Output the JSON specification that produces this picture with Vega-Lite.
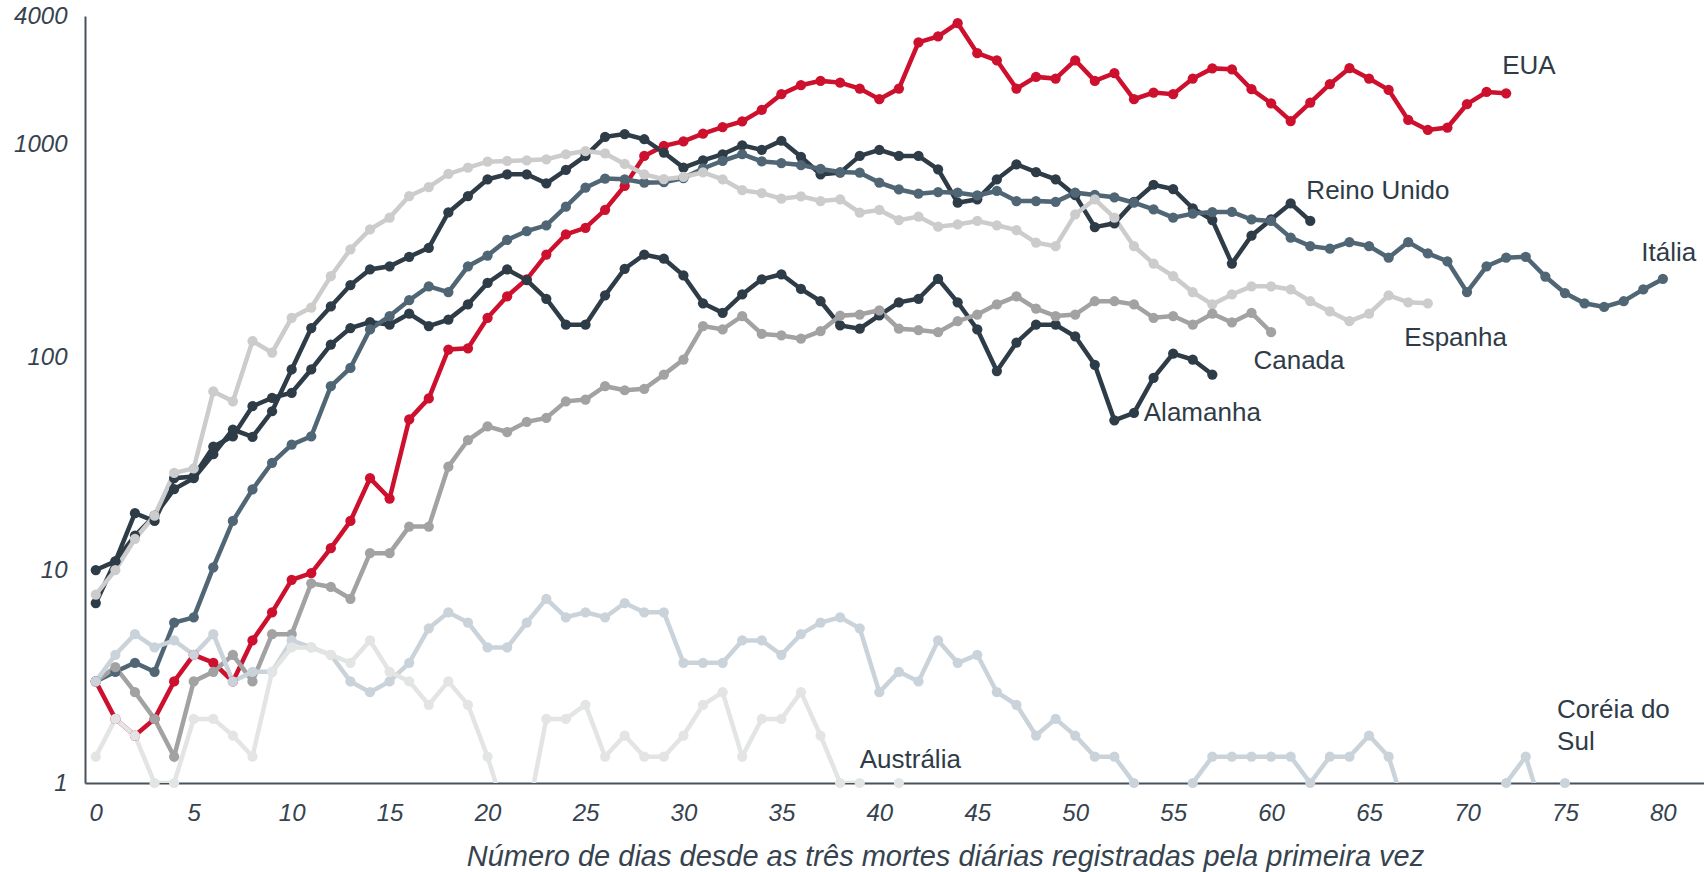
{
"$schema": "https://vega.github.io/schema/vega-lite/v6.json",
"width": 1619, "height": 767,
"autosize": {"type": "none"},
"padding": {"left": 85, "top": 16, "right": 0, "bottom": 89},
"background": "white",
"config": {"view": {"stroke": null}, "font": "Liberation Sans"},
"datasets": {
"series": [
{"c":"US","d":0,"v":3},{"c":"US","d":1,"v":2},{"c":"US","d":2,"v":1.67},{"c":"US","d":3,"v":2},{"c":"US","d":4,"v":3},{"c":"US","d":5,"v":4},{"c":"US","d":6,"v":3.67},{"c":"US","d":7,"v":3},{"c":"US","d":8,"v":4.67},{"c":"US","d":9,"v":6.33},
{"c":"US","d":10,"v":9},{"c":"US","d":11,"v":9.67},{"c":"US","d":12,"v":12.67},{"c":"US","d":13,"v":17},{"c":"US","d":14,"v":27},{"c":"US","d":15,"v":21.67},{"c":"US","d":16,"v":51},{"c":"US","d":17,"v":64},{"c":"US","d":18,"v":108.6},{"c":"US","d":19,"v":110},
{"c":"US","d":20,"v":153},{"c":"US","d":21,"v":193},{"c":"US","d":22,"v":232},{"c":"US","d":23,"v":303},{"c":"US","d":24,"v":377},{"c":"US","d":25,"v":405},{"c":"US","d":26,"v":492},{"c":"US","d":27,"v":637},{"c":"US","d":28,"v":881},{"c":"US","d":29,"v":982},
{"c":"US","d":30,"v":1030},{"c":"US","d":31,"v":1120},{"c":"US","d":32,"v":1203},{"c":"US","d":33,"v":1280},{"c":"US","d":34,"v":1450},{"c":"US","d":35,"v":1717},{"c":"US","d":36,"v":1893},{"c":"US","d":37,"v":1983},{"c":"US","d":38,"v":1946},{"c":"US","d":39,"v":1825},
{"c":"US","d":40,"v":1626},{"c":"US","d":41,"v":1825},{"c":"US","d":42,"v":3005},{"c":"US","d":43,"v":3207},{"c":"US","d":44,"v":3702},{"c":"US","d":45,"v":2675},{"c":"US","d":46,"v":2478},{"c":"US","d":47,"v":1825},{"c":"US","d":48,"v":2070},{"c":"US","d":49,"v":2033},
{"c":"US","d":50,"v":2478},{"c":"US","d":51,"v":1983},{"c":"US","d":52,"v":2155},{"c":"US","d":53,"v":1626},{"c":"US","d":54,"v":1747},{"c":"US","d":55,"v":1717},{"c":"US","d":56,"v":2033},{"c":"US","d":57,"v":2270},{"c":"US","d":58,"v":2248},{"c":"US","d":59,"v":1812},
{"c":"US","d":60,"v":1557},{"c":"US","d":61,"v":1285},{"c":"US","d":62,"v":1568},{"c":"US","d":63,"v":1914},{"c":"US","d":64,"v":2275},{"c":"US","d":65,"v":2033},{"c":"US","d":66,"v":1799},{"c":"US","d":67,"v":1300},{"c":"US","d":68,"v":1167},{"c":"US","d":69,"v":1197},
{"c":"US","d":70,"v":1541},{"c":"US","d":71,"v":1759},{"c":"US","d":72,"v":1734},
{"c":"DE","d":0,"v":10},{"c":"DE","d":1,"v":11},{"c":"DE","d":2,"v":18.5},{"c":"DE","d":3,"v":17},{"c":"DE","d":4,"v":27},{"c":"DE","d":5,"v":27.5},{"c":"DE","d":6,"v":38},{"c":"DE","d":7,"v":42.5},{"c":"DE","d":8,"v":58.8},{"c":"DE","d":9,"v":64.4},
{"c":"DE","d":10,"v":68},{"c":"DE","d":11,"v":87.5},{"c":"DE","d":12,"v":114.6},{"c":"DE","d":13,"v":137},{"c":"DE","d":14,"v":146},{"c":"DE","d":15,"v":142},{"c":"DE","d":16,"v":160},{"c":"DE","d":17,"v":140},{"c":"DE","d":18,"v":150},{"c":"DE","d":19,"v":177},
{"c":"DE","d":20,"v":223},{"c":"DE","d":21,"v":258},{"c":"DE","d":22,"v":230},{"c":"DE","d":23,"v":188},{"c":"DE","d":24,"v":142},{"c":"DE","d":25,"v":142},{"c":"DE","d":26,"v":195},{"c":"DE","d":27,"v":260},{"c":"DE","d":28,"v":303},{"c":"DE","d":29,"v":290},
{"c":"DE","d":30,"v":242},{"c":"DE","d":31,"v":179},{"c":"DE","d":32,"v":161.5},{"c":"DE","d":33,"v":197},{"c":"DE","d":34,"v":232},{"c":"DE","d":35,"v":245},{"c":"DE","d":36,"v":209},{"c":"DE","d":37,"v":183},{"c":"DE","d":38,"v":141},{"c":"DE","d":39,"v":136},
{"c":"DE","d":40,"v":157},{"c":"DE","d":41,"v":181},{"c":"DE","d":42,"v":188},{"c":"DE","d":43,"v":233},{"c":"DE","d":44,"v":181},{"c":"DE","d":45,"v":135},{"c":"DE","d":46,"v":86},{"c":"DE","d":47,"v":117},{"c":"DE","d":48,"v":142},{"c":"DE","d":49,"v":142},
{"c":"DE","d":50,"v":125},{"c":"DE","d":51,"v":92},{"c":"DE","d":52,"v":50.5},{"c":"DE","d":53,"v":54.7},{"c":"DE","d":54,"v":80},{"c":"DE","d":55,"v":104},{"c":"DE","d":56,"v":97.4},{"c":"DE","d":57,"v":82.8},
{"c":"UK","d":0,"v":7},{"c":"UK","d":1,"v":11},{"c":"UK","d":2,"v":14.5},{"c":"UK","d":3,"v":18},{"c":"UK","d":4,"v":24},{"c":"UK","d":5,"v":27},{"c":"UK","d":6,"v":35},{"c":"UK","d":7,"v":45.7},{"c":"UK","d":8,"v":42.2},{"c":"UK","d":9,"v":55.7},
{"c":"UK","d":10,"v":87.5},{"c":"UK","d":11,"v":137},{"c":"UK","d":12,"v":173},{"c":"UK","d":13,"v":218},{"c":"UK","d":14,"v":258},{"c":"UK","d":15,"v":267},{"c":"UK","d":16,"v":296},{"c":"UK","d":17,"v":326},{"c":"UK","d":18,"v":478},{"c":"UK","d":19,"v":571},
{"c":"UK","d":20,"v":684},{"c":"UK","d":21,"v":722},{"c":"UK","d":22,"v":722},{"c":"UK","d":23,"v":655},{"c":"UK","d":24,"v":757},{"c":"UK","d":25,"v":881},{"c":"UK","d":26,"v":1083},{"c":"UK","d":27,"v":1115},{"c":"UK","d":28,"v":1055},{"c":"UK","d":29,"v":914},
{"c":"UK","d":30,"v":776},{"c":"UK","d":31,"v":840},{"c":"UK","d":32,"v":897},{"c":"UK","d":33,"v":987},{"c":"UK","d":34,"v":941},{"c":"UK","d":35,"v":1038},{"c":"UK","d":36,"v":873},{"c":"UK","d":37,"v":722},{"c":"UK","d":38,"v":735},{"c":"UK","d":39,"v":881},
{"c":"UK","d":40,"v":940},{"c":"UK","d":41,"v":881},{"c":"UK","d":42,"v":881},{"c":"UK","d":43,"v":762},{"c":"UK","d":44,"v":531},{"c":"UK","d":45,"v":551},{"c":"UK","d":46,"v":684},{"c":"UK","d":47,"v":805},{"c":"UK","d":48,"v":740},{"c":"UK","d":49,"v":684},
{"c":"UK","d":50,"v":576},{"c":"UK","d":51,"v":408},{"c":"UK","d":52,"v":425},{"c":"UK","d":53,"v":536},{"c":"UK","d":54,"v":645},{"c":"UK","d":55,"v":616},{"c":"UK","d":56,"v":500},{"c":"UK","d":57,"v":440},{"c":"UK","d":58,"v":275},{"c":"UK","d":59,"v":372},
{"c":"UK","d":60,"v":443},{"c":"UK","d":61,"v":527},{"c":"UK","d":62,"v":436},
{"c":"IT","d":0,"v":3},{"c":"IT","d":1,"v":3.33},{"c":"IT","d":2,"v":3.67},{"c":"IT","d":3,"v":3.33},{"c":"IT","d":4,"v":5.67},{"c":"IT","d":5,"v":6},{"c":"IT","d":6,"v":10.3},{"c":"IT","d":7,"v":17},{"c":"IT","d":8,"v":23.9},{"c":"IT","d":9,"v":31.9},
{"c":"IT","d":10,"v":38.8},{"c":"IT","d":11,"v":42.5},{"c":"IT","d":12,"v":73},{"c":"IT","d":13,"v":89},{"c":"IT","d":14,"v":135},{"c":"IT","d":15,"v":156},{"c":"IT","d":16,"v":185},{"c":"IT","d":17,"v":215},{"c":"IT","d":18,"v":202},{"c":"IT","d":19,"v":267},
{"c":"IT","d":20,"v":300},{"c":"IT","d":21,"v":355},{"c":"IT","d":22,"v":391},{"c":"IT","d":23,"v":416},{"c":"IT","d":24,"v":509},{"c":"IT","d":25,"v":625},{"c":"IT","d":26,"v":690},{"c":"IT","d":27,"v":684},{"c":"IT","d":28,"v":660},{"c":"IT","d":29,"v":663},
{"c":"IT","d":30,"v":693},{"c":"IT","d":31,"v":769},{"c":"IT","d":32,"v":836},{"c":"IT","d":33,"v":897},{"c":"IT","d":34,"v":830},{"c":"IT","d":35,"v":815},{"c":"IT","d":36,"v":798},{"c":"IT","d":37,"v":765},{"c":"IT","d":38,"v":740},{"c":"IT","d":39,"v":735},
{"c":"IT","d":40,"v":660},{"c":"IT","d":41,"v":613},{"c":"IT","d":42,"v":586},{"c":"IT","d":43,"v":596},{"c":"IT","d":44,"v":592},{"c":"IT","d":45,"v":575},{"c":"IT","d":46,"v":603},{"c":"IT","d":47,"v":541},{"c":"IT","d":48,"v":541},{"c":"IT","d":49,"v":536},
{"c":"IT","d":50,"v":592},{"c":"IT","d":51,"v":578},{"c":"IT","d":52,"v":563},{"c":"IT","d":53,"v":531},{"c":"IT","d":54,"v":494},{"c":"IT","d":55,"v":452},{"c":"IT","d":56,"v":472},{"c":"IT","d":57,"v":480},{"c":"IT","d":58,"v":481},{"c":"IT","d":59,"v":443},
{"c":"IT","d":60,"v":436},{"c":"IT","d":61,"v":364},{"c":"IT","d":62,"v":332},{"c":"IT","d":63,"v":323},{"c":"IT","d":64,"v":347},{"c":"IT","d":65,"v":332},{"c":"IT","d":66,"v":293},{"c":"IT","d":67,"v":347},{"c":"IT","d":68,"v":307},{"c":"IT","d":69,"v":282},
{"c":"IT","d":70,"v":202},{"c":"IT","d":71,"v":267},{"c":"IT","d":72,"v":293},{"c":"IT","d":73,"v":296},{"c":"IT","d":74,"v":239},{"c":"IT","d":75,"v":200},{"c":"IT","d":76,"v":179},{"c":"IT","d":77,"v":172},{"c":"IT","d":78,"v":183},{"c":"IT","d":79,"v":208},{"c":"IT","d":80,"v":233},
{"c":"ES","d":0,"v":7.67},{"c":"ES","d":1,"v":10},{"c":"ES","d":2,"v":14},{"c":"ES","d":3,"v":18},{"c":"ES","d":4,"v":28.6},{"c":"ES","d":5,"v":30},{"c":"ES","d":6,"v":69},{"c":"ES","d":7,"v":62},{"c":"ES","d":8,"v":119},{"c":"ES","d":9,"v":105},
{"c":"ES","d":10,"v":153},{"c":"ES","d":11,"v":171},{"c":"ES","d":12,"v":240},{"c":"ES","d":13,"v":321},{"c":"ES","d":14,"v":398},{"c":"ES","d":15,"v":452},{"c":"ES","d":16,"v":571},{"c":"ES","d":17,"v":629},{"c":"ES","d":18,"v":725},{"c":"ES","d":19,"v":776},
{"c":"ES","d":20,"v":828},{"c":"ES","d":21,"v":834},{"c":"ES","d":22,"v":840},{"c":"ES","d":23,"v":849},{"c":"ES","d":24,"v":897},{"c":"ES","d":25,"v":929},{"c":"ES","d":26,"v":905},{"c":"ES","d":27,"v":808},{"c":"ES","d":28,"v":722},{"c":"ES","d":29,"v":685},
{"c":"ES","d":30,"v":702},{"c":"ES","d":31,"v":737},{"c":"ES","d":32,"v":684},{"c":"ES","d":33,"v":608},{"c":"ES","d":34,"v":589},{"c":"ES","d":35,"v":555},{"c":"ES","d":36,"v":569},{"c":"ES","d":37,"v":541},{"c":"ES","d":38,"v":551},{"c":"ES","d":39,"v":477},
{"c":"ES","d":40,"v":491},{"c":"ES","d":41,"v":440},{"c":"ES","d":42,"v":457},{"c":"ES","d":43,"v":410},{"c":"ES","d":44,"v":420},{"c":"ES","d":45,"v":436},{"c":"ES","d":46,"v":416},{"c":"ES","d":47,"v":395},{"c":"ES","d":48,"v":345},{"c":"ES","d":49,"v":332},
{"c":"ES","d":50,"v":468},{"c":"ES","d":51,"v":551},{"c":"ES","d":52,"v":452},{"c":"ES","d":53,"v":332},{"c":"ES","d":54,"v":275},{"c":"ES","d":55,"v":240},{"c":"ES","d":56,"v":202},{"c":"ES","d":57,"v":177},{"c":"ES","d":58,"v":197},{"c":"ES","d":59,"v":215},
{"c":"ES","d":60,"v":215},{"c":"ES","d":61,"v":208},{"c":"ES","d":62,"v":183},{"c":"ES","d":63,"v":164},{"c":"ES","d":64,"v":147.5},{"c":"ES","d":65,"v":160},{"c":"ES","d":66,"v":195},{"c":"ES","d":67,"v":181},{"c":"ES","d":68,"v":179},
{"c":"CA","d":0,"v":3},{"c":"CA","d":1,"v":3.5},{"c":"CA","d":2,"v":2.67},{"c":"CA","d":3,"v":2},{"c":"CA","d":4,"v":1.33},{"c":"CA","d":5,"v":3},{"c":"CA","d":6,"v":3.33},{"c":"CA","d":7,"v":4},{"c":"CA","d":8,"v":3},{"c":"CA","d":9,"v":5},
{"c":"CA","d":10,"v":5},{"c":"CA","d":11,"v":8.67},{"c":"CA","d":12,"v":8.33},{"c":"CA","d":13,"v":7.33},{"c":"CA","d":14,"v":12},{"c":"CA","d":15,"v":12},{"c":"CA","d":16,"v":16},{"c":"CA","d":17,"v":16},{"c":"CA","d":18,"v":30.6},{"c":"CA","d":19,"v":40.8},
{"c":"CA","d":20,"v":47.3},{"c":"CA","d":21,"v":44.5},{"c":"CA","d":22,"v":49.7},{"c":"CA","d":23,"v":51.8},{"c":"CA","d":24,"v":62},{"c":"CA","d":25,"v":63.2},{"c":"CA","d":26,"v":73},{"c":"CA","d":27,"v":69.9},{"c":"CA","d":28,"v":71},{"c":"CA","d":29,"v":82.8},
{"c":"CA","d":30,"v":97.4},{"c":"CA","d":31,"v":140},{"c":"CA","d":32,"v":135},{"c":"CA","d":33,"v":156},{"c":"CA","d":34,"v":128.6},{"c":"CA","d":35,"v":126.4},{"c":"CA","d":36,"v":122},{"c":"CA","d":37,"v":132.4},{"c":"CA","d":38,"v":156.5},{"c":"CA","d":39,"v":158.5},
{"c":"CA","d":40,"v":166},{"c":"CA","d":41,"v":136},{"c":"CA","d":42,"v":134},{"c":"CA","d":43,"v":131},{"c":"CA","d":44,"v":147.5},{"c":"CA","d":45,"v":158.5},{"c":"CA","d":46,"v":177},{"c":"CA","d":47,"v":193},{"c":"CA","d":48,"v":169},{"c":"CA","d":49,"v":156},
{"c":"CA","d":50,"v":158.5},{"c":"CA","d":51,"v":183},{"c":"CA","d":52,"v":183},{"c":"CA","d":53,"v":177},{"c":"CA","d":54,"v":153},{"c":"CA","d":55,"v":156},{"c":"CA","d":56,"v":142},{"c":"CA","d":57,"v":160},{"c":"CA","d":58,"v":145.5},{"c":"CA","d":59,"v":161.5},{"c":"CA","d":60,"v":131},
{"c":"KR","d":0,"v":3},{"c":"KR","d":1,"v":4},{"c":"KR","d":2,"v":5},{"c":"KR","d":3,"v":4.33},{"c":"KR","d":4,"v":4.67},{"c":"KR","d":5,"v":4},{"c":"KR","d":6,"v":5},{"c":"KR","d":7,"v":3},{"c":"KR","d":8,"v":3.33},{"c":"KR","d":9,"v":3.33},
{"c":"KR","d":10,"v":4.67},{"c":"KR","d":11,"v":4.33},{"c":"KR","d":12,"v":4},{"c":"KR","d":13,"v":3},{"c":"KR","d":14,"v":2.67},{"c":"KR","d":15,"v":3},{"c":"KR","d":16,"v":3.67},{"c":"KR","d":17,"v":5.33},{"c":"KR","d":18,"v":6.33},{"c":"KR","d":19,"v":5.67},
{"c":"KR","d":20,"v":4.33},{"c":"KR","d":21,"v":4.33},{"c":"KR","d":22,"v":5.67},{"c":"KR","d":23,"v":7.33},{"c":"KR","d":24,"v":6},{"c":"KR","d":25,"v":6.33},{"c":"KR","d":26,"v":6},{"c":"KR","d":27,"v":7},{"c":"KR","d":28,"v":6.33},{"c":"KR","d":29,"v":6.33},
{"c":"KR","d":30,"v":3.67},{"c":"KR","d":31,"v":3.67},{"c":"KR","d":32,"v":3.67},{"c":"KR","d":33,"v":4.67},{"c":"KR","d":34,"v":4.67},{"c":"KR","d":35,"v":4},{"c":"KR","d":36,"v":5},{"c":"KR","d":37,"v":5.67},{"c":"KR","d":38,"v":6},{"c":"KR","d":39,"v":5.33},
{"c":"KR","d":40,"v":2.67},{"c":"KR","d":41,"v":3.33},{"c":"KR","d":42,"v":3},{"c":"KR","d":43,"v":4.67},{"c":"KR","d":44,"v":3.67},{"c":"KR","d":45,"v":4},{"c":"KR","d":46,"v":2.67},{"c":"KR","d":47,"v":2.33},{"c":"KR","d":48,"v":1.67},{"c":"KR","d":49,"v":2},
{"c":"KR","d":50,"v":1.67},{"c":"KR","d":51,"v":1.33},{"c":"KR","d":52,"v":1.33},{"c":"KR","d":53,"v":1},{"c":"KR","d":54,"v":0.67},{"c":"KR","d":55,"v":0.67},{"c":"KR","d":56,"v":1},{"c":"KR","d":57,"v":1.33},{"c":"KR","d":58,"v":1.33},{"c":"KR","d":59,"v":1.33},
{"c":"KR","d":60,"v":1.33},{"c":"KR","d":61,"v":1.33},{"c":"KR","d":62,"v":1},{"c":"KR","d":63,"v":1.33},{"c":"KR","d":64,"v":1.33},{"c":"KR","d":65,"v":1.67},{"c":"KR","d":66,"v":1.33},{"c":"KR","d":67,"v":0.67},{"c":"KR","d":68,"v":0.33},{"c":"KR","d":69,"v":0.33},
{"c":"KR","d":70,"v":0.33},{"c":"KR","d":71,"v":0.67},{"c":"KR","d":72,"v":1},{"c":"KR","d":73,"v":1.33},{"c":"KR","d":74,"v":0.67},{"c":"KR","d":75,"v":1},
{"c":"AU","d":0,"v":1.33},{"c":"AU","d":1,"v":2},{"c":"AU","d":2,"v":1.67},{"c":"AU","d":3,"v":1},{"c":"AU","d":4,"v":1},{"c":"AU","d":5,"v":2},{"c":"AU","d":6,"v":2},{"c":"AU","d":7,"v":1.67},{"c":"AU","d":8,"v":1.33},{"c":"AU","d":9,"v":3.33},
{"c":"AU","d":10,"v":4.33},{"c":"AU","d":11,"v":4.33},{"c":"AU","d":12,"v":4},{"c":"AU","d":13,"v":3.67},{"c":"AU","d":14,"v":4.67},{"c":"AU","d":15,"v":3.33},{"c":"AU","d":16,"v":3},{"c":"AU","d":17,"v":2.33},{"c":"AU","d":18,"v":3},{"c":"AU","d":19,"v":2.33},
{"c":"AU","d":20,"v":1.33},{"c":"AU","d":21,"v":0.67},{"c":"AU","d":22,"v":0.67},{"c":"AU","d":23,"v":2},{"c":"AU","d":24,"v":2},{"c":"AU","d":25,"v":2.33},{"c":"AU","d":26,"v":1.33},{"c":"AU","d":27,"v":1.67},{"c":"AU","d":28,"v":1.33},{"c":"AU","d":29,"v":1.33},
{"c":"AU","d":30,"v":1.67},{"c":"AU","d":31,"v":2.33},{"c":"AU","d":32,"v":2.67},{"c":"AU","d":33,"v":1.33},{"c":"AU","d":34,"v":2},{"c":"AU","d":35,"v":2},{"c":"AU","d":36,"v":2.67},{"c":"AU","d":37,"v":1.67},{"c":"AU","d":38,"v":1},{"c":"AU","d":39,"v":1},
{"c":"AU","d":40,"v":0.67},{"c":"AU","d":41,"v":1}
],
"labels": [
{"t":"EUA","d":71.8,"v":2323},{"t":"Reino Unido","d":61.8,"v":603},{"t":"Itália","d":78.9,"v":309},{"t":"Espanha","d":66.8,"v":123},{"t":"Canada","d":59.1,"v":95.7},{"t":"Alamanha","d":53.5,"v":54.7},{"t":"Austrália","d":39,"v":1.28},{"t":"Coréia do","d":74.6,"v":2.2},{"t":"Sul","d":74.6,"v":1.56}
]
},
"encoding": {
"x": {"field": "d", "type": "quantitative",
 "scale": {"domain": [-0.55, 82.1], "nice": false, "zero": false},
 "axis": {"values": [0,5,10,15,20,25,30,35,40,45,50,55,60,65,70,75,80],
  "title": "Número de dias desde as três mortes diárias registradas pela primeira vez",
  "grid": false, "ticks": false, "tickSize": 0,
  "domainColor": "#46525C", "domainWidth": 2,
  "labelFont": "Liberation Sans", "labelFontStyle": "italic", "labelFontSize": 24, "labelColor": "#36434F",
  "labelPadding": 37, "labelBaseline": "alphabetic", "labelFlush": false, "labelOverlap": false,
  "titleFont": "Liberation Sans", "titleFontStyle": "italic", "titleFontWeight": "normal", "titleFontSize": 29, "titleColor": "#36434F",
  "titleX": 860, "titleY": 82, "titleBaseline": "alphabetic", "titleAlign": "center"}},
"y": {"field": "v", "type": "quantitative",
 "scale": {"type": "log", "domain": [1, 4000], "nice": false},
 "axis": {"values": [1,10,100,1000,4000], "format": "d", "title": null,
  "grid": false, "ticks": false, "tickSize": 0,
  "domainColor": "#46525C", "domainWidth": 2,
  "labelFont": "Liberation Sans", "labelFontStyle": "italic", "labelFontSize": 24, "labelColor": "#36434F",
  "labelPadding": 18, "labelBaseline": "middle", "labelFlush": false, "labelOverlap": false}}
},
"layer": [
{"data": {"name": "series"},
 "mark": {"type": "line", "strokeWidth": 4.5, "clip": true},
 "encoding": {"color": {"field": "c", "type": "nominal", "legend": null,
  "scale": {"domain": ["US","DE","UK","IT","ES","CA","KR","AU"], "range": ["#CD102E","#2E3C48","#2E3C48","#506675","#CCCCCC","#A2A2A2","#CBD3DA","#E3E4E4"]}}}},
{"data": {"name": "series"},
 "transform": [{"filter": "datum.v >= 1"}],
 "mark": {"type": "circle", "size": 105, "opacity": 1},
 "encoding": {"color": {"field": "c", "type": "nominal", "legend": null}}},
{"data": {"name": "labels"},
 "mark": {"type": "text", "align": "left", "baseline": "middle", "fontSize": 26, "font": "Liberation Sans", "color": "#2F3C47"},
 "encoding": {"text": {"field": "t"}}}
]
}
